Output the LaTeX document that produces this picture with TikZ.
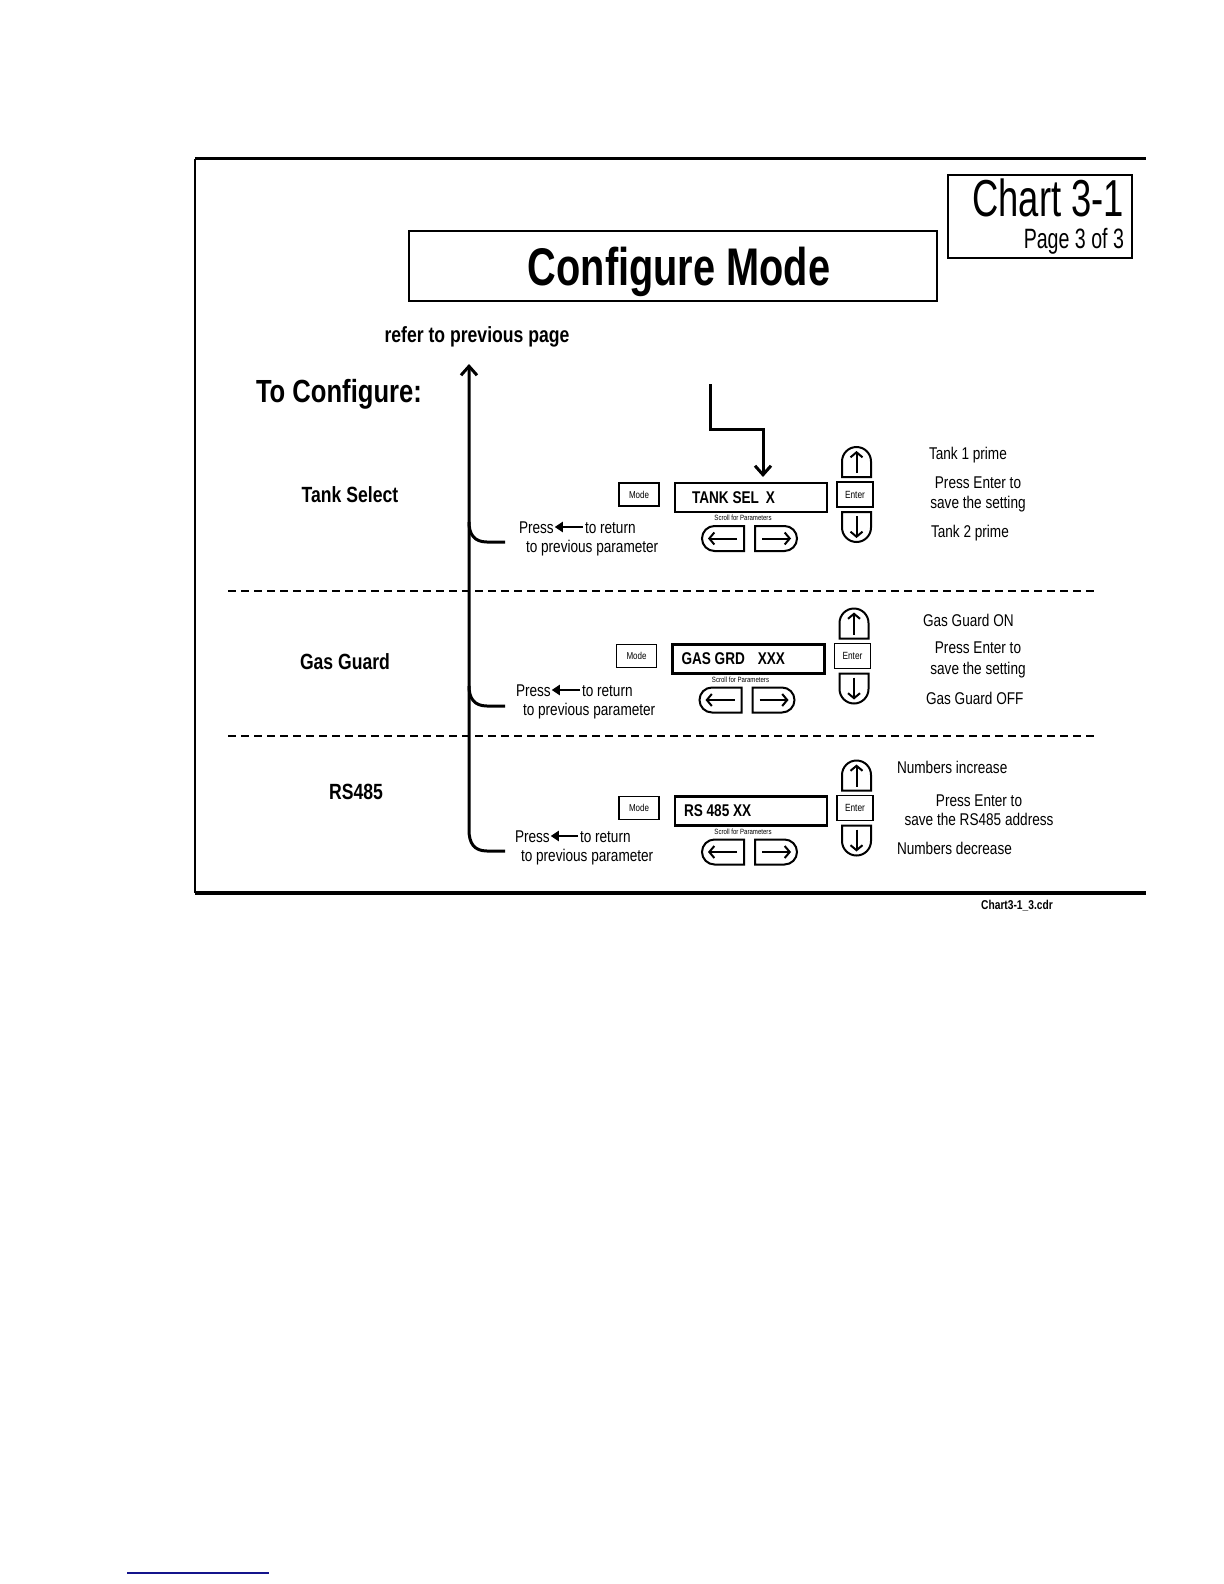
\documentclass[tikz,border=0pt]{standalone}
\usepackage{fontspec}
\setmainfont{Liberation Sans}[FakeStretch=0.8]
\newfontfamily\narrowfont{Liberation Sans}[FakeStretch=0.7]
\newfontfamily\headfont{Liberation Sans}[FakeStretch=0.75]
\usetikzlibrary{arrows.meta,shapes.misc}
\newcommand{\fsz}[1]{\fontsize{#1}{#1}\selectfont}
\definecolor{navyline}{RGB}{20,20,140}
\newcommand{\ctrlrow}[5]{%
 \begin{scope}[shift={(#2,#3)}]
  \node[modebox] (#1mode) at (639,494.5) {Mode};
  \node[dispbox] (#1disp) at (751,497.5) {};
  \node[disptext] (#1dtext) at ([xshift=#5]#1disp.west) {#4};
  \node[scrolltxt] (#1scroll) at (743,518) {Scroll for Parameters};
  \node[lbtn] (#1lb) at (723,538.5) {};
  \node[rbtn] (#1rb) at (776,538.5) {};
  \node[enterbox] (#1enter) at (855,494.5) {Enter};
  \node[ubtn] (#1ub) at (856.5,462) {};
  \node[dbtn] (#1db) at (856.5,527) {};
  \draw[icon] ([xshift=7pt]#1lb.center) -- ([xshift=-7.5pt]#1lb.center);
  \draw[icon] ([xshift=-7pt]#1rb.center) -- ([xshift=7.5pt]#1rb.center);
  \draw[icon] ([yshift=-5.5pt]#1ub.center) -- ([yshift=5.5pt]#1ub.center);
  \draw[icon] ([yshift=5.5pt]#1db.center) -- ([yshift=-5.5pt]#1db.center);
 \end{scope}}
\begin{document}
\begin{tikzpicture}[x=0.5pt,y=-0.5pt,
  every node/.style={inner sep=0pt, outer sep=0pt},
  txt/.style={font=\fsz{8.5pt}},
  lbl/.style={font=\bfseries\fsz{11pt}, anchor=base},
  modebox/.style={draw, line width=0.75pt, minimum width=20pt, minimum height=11.5pt, font=\fsz{5pt}},
  dispbox/.style={draw, line width=1.4pt, minimum width=76pt, minimum height=14.5pt},
  disptext/.style={font=\bfseries\fsz{8.5pt}, anchor=west},
  scrolltxt/.style={font=\fsz{3.8pt}},
  enterbox/.style={draw, line width=0.8pt, minimum width=18pt, minimum height=12.5pt, font=\fsz{5.2pt}},
  lbtn/.style={draw, line width=1pt, rounded rectangle, rounded rectangle right arc=none, minimum width=21pt, minimum height=12.5pt},
  rbtn/.style={draw, line width=1pt, rounded rectangle, rounded rectangle left arc=none, minimum width=21pt, minimum height=12.5pt},
  ubtn/.style={draw, line width=1pt, rounded rectangle, rounded rectangle left arc=none, rotate=90, minimum width=15pt, minimum height=14.5pt},
  dbtn/.style={draw, line width=1pt, rounded rectangle, rounded rectangle right arc=none, rotate=90, minimum width=15pt, minimum height=14.5pt},
  icon/.style={line width=1pt, -{Straight Barb[length=2.5pt,width=6pt]}},
  pressarrow/.style={line width=1.2pt, -{Triangle[length=4pt,width=5pt]}, shorten >=0.5pt, shorten <=1pt},
  flow/.style={line width=1.5pt},
  sep/.style={line width=0.6pt, dash pattern=on 4pt off 2.5pt}
]
\useasboundingbox (0,0) rectangle (1224,1584);
\fill[white] (0,0) rectangle (1224,1584);

% frame
\coordinate (ftl) at (195,158.5);
\coordinate (ftr) at (1146,158.5);
\coordinate (fbl) at (195,893);
\coordinate (fbr) at (1146,893);
\draw[line width=1.7pt] (ftl) -- (ftr);
\draw[line width=1.7pt] (fbl) -- (fbr);
\draw[line width=1pt] (ftl) -- (fbl);

% titles
\node[draw, line width=0.8pt, minimum width=92pt, minimum height=41.5pt] (chartbox) at (1040,216.5) {};
\node[font=\narrowfont\fsz{26pt}, anchor=base east] (chart) at (1124,216) {Chart 3-1};
\node[font=\narrowfont\fsz{14pt}, anchor=base east] (page) at (1124,248) {Page 3 of 3};
\node[draw, line width=0.7pt, minimum width=264pt, minimum height=35pt] (cmbox) at (673,266) {};
\node[font=\headfont\bfseries\fsz{26.5pt}, anchor=base] (cm) at (679,285) {Configure Mode};
\node[font=\bfseries\fsz{11pt}, anchor=base] (refer) at (477,342) {refer to previous page};
\node[font=\bfseries\fsz{16pt}, anchor=base west] (tocfg) at (256,402) {To Configure:};

\node[lbl] (tanklbl) at (350,502) {Tank Select};
\node[lbl] (gaslbl) at (345,669) {Gas Guard};
\node[lbl] (rslbl) at (356,799) {RS485};

% separators
\coordinate (d1l) at (228,591); \coordinate (d1r) at (1094,591);
\coordinate (d2l) at (228,736); \coordinate (d2r) at (1096,736);
\draw[sep] (d1l) -- (d1r);
\draw[sep] (d2l) -- (d2r);

% control rows
\ctrlrow{tk}{0}{0}{TANK SEL\hspace{1.5pt} X}{8.5pt}
\ctrlrow{gs}{-2.5}{161.5}{GAS GRD\hspace{4.5pt} XXX}{4.5pt}
\ctrlrow{rs}{0}{313.5}{RS 485 XX}{4.5pt}

% arrow into tank display
\coordinate (topin) at (710,384);
\coordinate (tkbend) at (763,429);
\draw[flow, -{Straight Barb[length=4.5pt,width=8pt]}, shorten >=3pt] (topin) |- (tkbend) -- (tkbend |- tkdisp.north);

% main return line
\coordinate (reftip) at (469,364);
\coordinate (tkret) at (505,542);
\coordinate (gsret) at (505,706);
\coordinate (rsret) at (505,851);
\draw[flow, -{Straight Barb[length=4.5pt,width=8pt]}] (rsret) -- (487,851) .. controls (474,851) and (469,843) .. (469,830) -- (reftip);
\draw[flow] (tkret) -- (487,542) .. controls (474,542) and (469,534) .. (469,522);
\draw[flow] (gsret) -- (487,706) .. controls (474,706) and (469,698) .. (469,686);

% press texts
\node[txt, anchor=base west] (tkpress) at (519,533) {Press};
\node[txt, anchor=base west] (tkreturn) at (585,533) {to return};
\node[txt, anchor=base west] (tkprev) at (526,552) {to previous parameter};
\draw[pressarrow] ([yshift=3pt]tkreturn.base west) -- ([yshift=3pt]tkpress.base east);

\node[txt, anchor=base west] (gspress) at (516,696) {Press};
\node[txt, anchor=base west] (gsreturn) at (582,696) {to return};
\node[txt, anchor=base west] (gsprev) at (523,715) {to previous parameter};
\draw[pressarrow] ([yshift=3pt]gsreturn.base west) -- ([yshift=3pt]gspress.base east);

\node[txt, anchor=base west] (rspress) at (515,842) {Press};
\node[txt, anchor=base west] (rsreturn) at (580,842) {to return};
\node[txt, anchor=base west] (rsprev) at (521,861) {to previous parameter};
\draw[pressarrow] ([yshift=3pt]rsreturn.base west) -- ([yshift=3pt]rspress.base east);

% right-hand texts
\node[txt, anchor=base west] (tk1) at (929,459) {Tank 1 prime};
\node[txt, anchor=base] (tkpe) at (978,488) {Press Enter to};
\node[txt, anchor=base] (tksave) at (978,508) {save the setting};
\node[txt, anchor=base west] (tk2) at (931,537) {Tank 2 prime};

\node[txt, anchor=base west] (gson) at (923,626) {Gas Guard ON};
\node[txt, anchor=base] (gspe) at (978,653) {Press Enter to};
\node[txt, anchor=base] (gssave) at (978,674) {save the setting};
\node[txt, anchor=base west] (gsoff) at (926,704) {Gas Guard OFF};

\node[txt, anchor=base west] (rsinc) at (897,773) {Numbers increase};
\node[txt, anchor=base] (rspe) at (979,806) {Press Enter to};
\node[txt, anchor=base] (rssave) at (979,825) {save the RS485 address};
\node[txt, anchor=base west] (rsdec) at (897,854) {Numbers decrease};

% footer
\node[font=\bfseries\fsz{6.4pt}, anchor=base] (footer) at (1017,909) {Chart3-1\_3.cdr};
\coordinate (bl1) at (127,1573);
\coordinate (bl2) at (269,1573);
\draw[navyline, line width=1pt] (bl1) -- (bl2);
\end{tikzpicture}
\end{document}
